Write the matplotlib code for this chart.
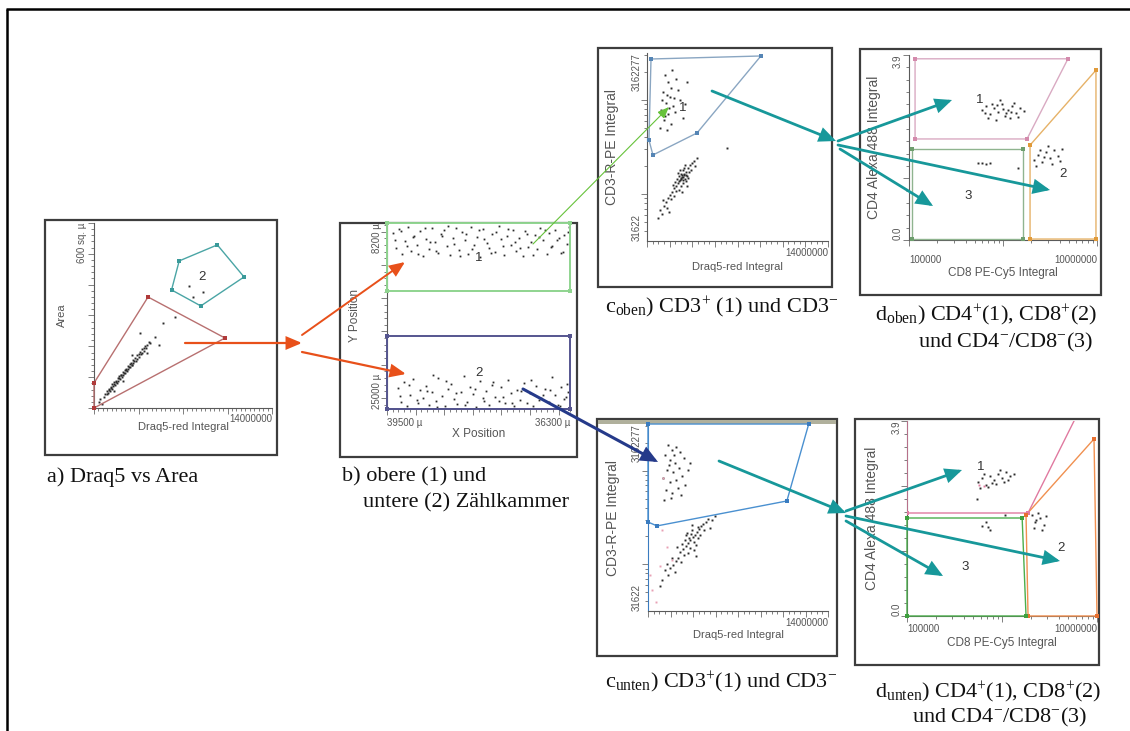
import numpy as np
import matplotlib
matplotlib.use("Agg")
import matplotlib.pyplot as plt
from matplotlib.patches import Rectangle, FancyArrowPatch
from matplotlib.ticker import MultipleLocator, LogLocator

plt.rcParams["font.family"] = ["Liberation Sans", "DejaVu Sans"]
plt.rcParams["mathtext.fontset"] = "custom"
plt.rcParams["mathtext.rm"] = "Liberation Serif"
plt.rcParams["mathtext.it"] = "Liberation Serif:italic"
plt.rcParams["mathtext.bf"] = "Liberation Serif:bold"

# ---- a) Draq5 integral (1e6) vs area (sq. µ) ----
a_cells = np.array([
    (0.8, 36), (0.9, 47), (1.0, 44), (1.05, 56), (1.1, 49), (1.15, 57), (1.2, 63), (1.25, 55), (1.3, 68), (1.35, 64),
    (1.4, 62), (1.45, 77), (1.5, 70), (1.55, 79), (1.6, 84), (1.65, 74), (1.7, 88), (1.75, 85), (1.8, 81), (1.85, 96),
    (1.9, 89), (1.95, 98), (2.0, 103), (2.05, 93), (2.1, 108), (2.15, 106), (2.2, 100), (2.25, 116), (2.3, 107), (2.35, 115),
    (2.4, 123), (2.45, 114), (2.5, 128), (2.55, 122), (2.6, 120), (2.65, 135), (2.7, 126), (2.75, 134), (2.8, 143), (2.85, 132),
    (2.9, 147), (2.95, 141), (3.0, 140), (3.05, 156), (3.1, 147), (3.15, 153), (3.2, 162), (3.3, 153), (3.35, 160), (3.4, 172),
    (3.5, 166), (3.55, 176), (3.6, 181), (3.7, 174), (3.75, 178), (3.8, 192), (3.9, 186), (3.95, 196), (4.0, 201), (4.1, 195),
    (4.2, 203), (4.3, 215), (4.4, 210),
    (0.4, 18), (0.5, 30), (0.6, 12), (1.6, 55), (2.3, 86), (3.0, 172), (3.6, 243), (4.2, 178), (4.8, 230),
    (5.1, 205), (5.4, 276), (6.4, 295), (7.5, 396), (8.6, 376), (7.8, 360),
])
a_gate1_x = [0, 4.25, 10.3, 0]
a_gate1_y = [81, 360, 227, 0]
a_gate2_x = [6.7, 9.7, 11.8, 8.4, 6.1]
a_gate2_y = [477, 529, 425, 331, 383]

# ---- b) stage position (µ) ----
b_top = np.array([
    (39390, 9120), (39340, 10480), (39290, 8720), (39230, 11020), (39180, 9810), (39130, 8530), (39080, 10730), (39020, 9340),
    (38970, 10150), (38920, 8910), (38870, 11180), (38810, 9620), (38760, 10560), (38710, 8640), (38660, 9930), (38600, 10870),
    (38550, 9230), (38500, 8820), (38450, 10320), (38390, 11090), (38340, 9510), (38290, 8660), (38240, 10610), (38180, 9040),
    (38130, 9760), (38080, 10960), (38030, 8570), (37970, 10220), (37920, 9420), (37870, 11230), (37820, 8770), (37760, 9980),
    (37710, 10440), (37660, 9170), (37610, 10810), (37550, 8470), (37500, 9680), (37450, 11060), (37400, 9370), (37340, 10170),
    (37290, 8860), (37240, 10690), (37190, 9560), (37130, 11140), (37080, 8960), (37030, 10380), (36980, 9880), (36920, 9260),
    (36870, 10590), (36820, 8610), (36770, 9740), (36710, 11010), (36660, 9080), (36610, 10270), (36560, 8790), (36500, 9590),
    (36450, 10920), (36400, 9310), (36350, 10060), (36320, 8540),
    (39360, 9700), (39250, 8900), (39150, 10300), (39050, 9500), (38950, 11000), (38840, 8650), (38740, 9950), (38640, 10700),
    (38540, 9400), (38430, 8500), (38330, 10100), (38220, 11150), (38120, 9200), (38010, 10550), (37900, 8850), (37800, 9650),
    (37690, 10900), (37590, 9050), (37480, 10250), (37380, 8700), (37270, 9900), (37170, 10500), (37060, 9150), (36950, 11100),
    (36850, 9450), (36740, 8800), (36640, 10350), (36530, 9750), (36430, 10800), (36340, 9000),
])
b_bottom = np.array([
    (39310, 23100), (39260, 24400), (39200, 22600), (39150, 24750), (39090, 23700), (39040, 22300), (38980, 24200), (38930, 23300),
    (38870, 24000), (38820, 22900), (38760, 24600), (38710, 23500), (38650, 24300), (38600, 22200), (38540, 23800), (38490, 24700),
    (38430, 23150), (38380, 22750), (38320, 24100), (38270, 24550), (38210, 23450), (38160, 22050), (38100, 24350), (38050, 23000),
    (37990, 23650), (37940, 24800), (37880, 22450), (37830, 24050), (37770, 23350), (37720, 24650), (37660, 22800), (37610, 23900),
    (37550, 24250), (37500, 23050), (37440, 24500), (37390, 22350), (37330, 23550), (37280, 24700), (37220, 23250), (37170, 24150),
    (37110, 22650), (37060, 24450), (37000, 23600), (36950, 24750), (36890, 22950), (36840, 24200), (36780, 23750), (36730, 23150),
    (36670, 24400), (36620, 22150), (36560, 23700), (36510, 24600), (36450, 23050), (36400, 24100), (36350, 22700), (36330, 23500),
    (39280, 23800), (39120, 22800), (38960, 24500), (38800, 23400), (38620, 24800), (38460, 22500), (38300, 23600), (38140, 24600),
    (37960, 23200), (37800, 24300), (37640, 22600), (37480, 23950), (37320, 24450), (37150, 23400), (36990, 22400), (36810, 24050),
    (36650, 23300), (36480, 24700), (36370, 23900), (38700, 21900),
])
b_gate1_x = [39500, 36300, 36300, 39500]
b_gate1_y = [8200, 8200, 14340, 14340]
b_gate2_x = [39500, 36300, 36300, 39500]
b_gate2_y = [18400, 18400, 25000, 25000]

# ---- c) Draq5 integral (1e6) vs CD3-R-PE integral ----
c_top_cd3pos = np.array([
    (1.39, 1.85e6), (1.62, 1.55e6), (1.86, 1.34e6), (1.24, 1.22e6), (2.24, 1.67e6), (1.78, 1.08e6), (1.47, 9.3e5),
    (2.01, 8.6e5), (1.08, 7.8e5), (1.62, 7.1e5), (2.16, 7.5e5), (1.31, 6.1e5), (1.86, 5.6e5), (1.55, 4.8e5),
    (1.16, 1.0e6), (2.55, 1.0e6), (2.94, 9.1e5), (2.78, 6.4e5), (2.40, 1.28e6), (1.93, 2.08e6), (3.09, 1.55e6),
    (1.70, 8.2e5), (1.39, 6.8e5), (2.09, 1.05e6), (1.00, 5.0e5), (1.55, 1.13e6),
])
c_top_cd3neg = np.array([
    (2.71, 1.52e5), (2.86, 1.59e5), (2.55, 1.41e5), (3.01, 1.71e5), (2.40, 1.31e5), (2.78, 1.80e5), (3.17, 1.89e5),
    (2.24, 1.22e5), (2.63, 1.63e5), (2.94, 1.45e5), (2.47, 1.55e5), (3.09, 1.55e5), (2.32, 1.45e5), (3.32, 2.04e5),
    (2.09, 1.16e5), (2.78, 1.31e5), (2.55, 1.80e5), (3.48, 2.14e5), (1.93, 1.05e5), (2.86, 1.89e5), (3.25, 1.71e5),
    (2.16, 1.34e5), (3.01, 1.37e5), (2.40, 1.67e5), (3.63, 2.24e5), (1.78, 9.8e4), (2.63, 1.22e5), (3.17, 1.48e5),
    (2.01, 1.25e5), (2.94, 2.04e5), (1.62, 9.1e4), (2.24, 1.08e5), (3.40, 1.80e5), (2.47, 1.10e5), (1.47, 8.2e4),
    (1.86, 8.9e4), (1.31, 7.4e4), (1.00, 6.8e4), (1.16, 6.1e4), (1.55, 7.1e4), (0.85, 5.6e4), (1.70, 6.4e4),
    (1.24, 8.6e4), (3.87, 2.42e5), (3.71, 1.99e5), (2.71, 1.05e5), (3.09, 1.22e5), (2.09, 9.6e4), (6.18, 3.08e5),
    (2.60, 1.48e5), (2.80, 1.50e5), (2.70, 1.60e5), (2.90, 1.65e5), (2.50, 1.36e5), (2.65, 1.45e5), (2.75, 1.40e5),
    (3.00, 1.60e5),
])
c_top_gate_x = [0.31, 8.81, 3.87, 0.46, 0.15]
c_top_gate_y = [2.73e6, 2.94e6, 4.46e5, 2.60e5, 3.75e5]

c_bot_cd3pos = np.array([
    (1.56, 1.88e6), (1.87, 1.67e6), (2.18, 1.80e6), (1.32, 1.47e6), (2.49, 1.59e6), (1.71, 1.30e6), (2.10, 1.21e6),
    (2.80, 1.37e6), (1.48, 1.02e6), (1.95, 9.7e5), (2.41, 1.07e6), (1.17, 8.4e5), (1.71, 7.6e5), (2.18, 8.0e5),
    (2.65, 8.8e5), (1.40, 6.2e5), (1.87, 5.8e5), (2.33, 6.5e5), (3.11, 1.02e6), (1.24, 4.9e5), (1.79, 5.1e5),
    (2.88, 7.0e5), (2.02, 1.47e6), (1.63, 1.15e6), (3.27, 1.21e6), (2.57, 5.5e5),
])
c_bot_cd3neg = np.array([
    (3.50, 1.95e5), (3.66, 2.06e5), (3.27, 1.82e5), (3.81, 2.21e5), (3.11, 1.69e5), (3.42, 2.33e5), (3.97, 2.38e5),
    (2.96, 1.57e5), (3.58, 1.73e5), (3.35, 2.11e5), (3.19, 1.91e5), (3.89, 1.91e5), (2.88, 1.82e5), (4.12, 2.57e5),
    (2.72, 1.46e5), (3.73, 1.61e5), (3.03, 2.16e5), (4.28, 2.69e5), (2.49, 1.35e5), (4.05, 2.06e5), (2.80, 1.26e5),
    (3.27, 1.49e5), (2.33, 1.17e5), (4.51, 2.83e5), (2.18, 1.08e5), (3.58, 1.42e5), (4.67, 3.05e5), (2.65, 1.65e5),
    (1.95, 9.8e4), (3.11, 1.32e5), (1.71, 9.1e4), (4.98, 2.97e5), (2.10, 8.3e4), (1.56, 7.7e4), (5.21, 3.28e5),
    (1.32, 8.7e4), (2.57, 1.06e5), (1.09, 6.8e4), (3.89, 2.50e5), (4.36, 2.33e5), (1.87, 1.17e5), (2.96, 2.06e5),
    (0.93, 5.8e4), (1.48, 1.01e5), (4.82, 2.44e5), (2.26, 1.53e5), (3.73, 1.23e5), (3.42, 2.63e5),
])
c_bot_faint = np.array([
    (0.31, 5.3e4), (0.93, 9.6e4), (1.48, 1.53e5), (0.62, 3.9e4), (1.09, 2.33e5), (0.16, 7.7e4), (1.17, 8.4e5),
    (1.87, 1.11e5),
])
c_bot_gate_x = [0, 12.5, 10.8, 0.7, 0]
c_bot_gate_y = [3.16e6, 3.16e6, 4.75e5, 2.57e5, 2.83e5]

# ---- d) CD8 PE-Cy5 integral vs CD4 Alexa 488 integral ----
d_top_cd4 = np.array([
    (5.98e5, 2.74), (6.59e5, 2.82), (7.27e5, 2.66), (8.02e5, 2.78), (8.85e5, 2.70), (9.75e5, 2.87), (1.05e6, 2.61),
    (1.13e6, 2.74), (1.25e6, 2.82), (1.37e6, 2.68), (1.52e6, 2.78), (1.67e6, 2.72), (6.92e5, 2.57), (8.43e5, 2.53),
    (1.0e6, 2.76), (1.19e6, 2.57), (6.44e5, 2.68), (9.29e5, 2.95), (1.31e6, 2.89), (7.64e5, 2.87), (1.08e6, 2.68),
    (1.44e6, 2.59), (8.63e5, 2.85), (1.22e6, 2.70),
])
d_top_cd8 = np.array([
    (2.14e6, 1.69), (2.36e6, 1.79), (2.60e6, 1.64), (2.87e6, 1.86), (3.16e6, 1.73), (3.49e6, 1.90), (3.85e6, 1.77),
    (4.25e6, 1.92), (2.24e6, 1.56), (2.73e6, 1.75), (3.32e6, 1.60), (2.48e6, 1.90), (4.04e6, 1.67), (3.01e6, 1.98),
    (5.42e5, 1.62), (5.98e5, 1.63), (6.59e5, 1.61), (7.27e5, 1.62), (1.44e6, 1.52),
])
d_top_gate1_x = [1.16e5, 4.91e6, 1.80e6, 1.16e5]
d_top_gate1_y = [3.82, 3.82, 2.13, 2.13]
d_top_gate2_x = [1.94e6, 9.75e6, 9.75e6, 1.94e6]
d_top_gate2_y = [2.0, 3.58, 0.02, 0.02]
d_top_gate3_x = [1.08e5, 1.63e6, 1.63e6, 1.08e5]
d_top_gate3_y = [1.92, 1.92, 0.02, 0.02]

d_bot_cd4 = np.array([
    (5.59e5, 2.68), (6.16e5, 2.76), (6.79e5, 2.62), (7.48e5, 2.80), (8.24e5, 2.72), (9.08e5, 2.84), (1.0e6, 2.76),
    (1.10e6, 2.88), (1.21e6, 2.80), (1.34e6, 2.84), (7.12e5, 2.58), (8.65e5, 2.64), (1.05e6, 2.68), (9.53e5, 2.92),
    (6.47e5, 2.84), (7.85e5, 2.66), (1.16e6, 2.72), (5.87e5, 2.56), (5.45e5, 2.34),
])
d_bot_cd8 = np.array([
    (2.07e6, 2.02), (2.28e6, 1.92), (2.51e6, 1.96), (2.77e6, 1.82), (2.17e6, 1.76), (2.39e6, 2.06), (2.64e6, 1.72),
    (2.90e6, 2.0), (2.22e6, 1.88), (6.16e5, 1.80), (6.79e5, 1.88), (7.48e5, 1.72), (7.1e5, 1.78), (1.08e6, 2.02),
])
d_bot_faint = np.array([(5.7e5, 2.62), (6.4e5, 2.60)])
d_bot_gate1_x = [1.0e5, 1.0e5, 1.88e6, 7.3e6]
d_bot_gate1_y = [4.3, 2.06, 2.06, 4.3]
d_bot_gate2_x = [1.79e6, 9.3e6, 1.0e7, 1.88e6]
d_bot_gate2_y = [2.02, 3.54, 0.0, 0.0]
d_bot_gate3_x = [1.0e5, 1.63e6, 1.79e6, 1.0e5]
d_bot_gate3_y = [1.96, 1.96, 0.0, 0.0]

W, H = 1130, 731
GREY = "#555555"
TEAL = "#17989a"
RED = "#e8501a"


def box(x0, y0, x1, y1):
    return [x0 / W, 1 - y1 / H, (x1 - x0) / W, (y1 - y0) / H]


def style(ax):
    ax.set_facecolor("white")
    for s in ("top", "right"):
        ax.spines[s].set_visible(False)
    for s in ("left", "bottom"):
        ax.spines[s].set_color("#5a5a5a")
        ax.spines[s].set_linewidth(0.8)
    ax.tick_params(which="both", direction="out", colors="#6a6a6a", width=0.6,
                   labelleft=False, labelbottom=False)
    ax.tick_params(which="major", length=4)
    ax.tick_params(which="minor", length=2.2)


def xtick_text(ax, val, s, ha, dy):
    ax.annotate(s, (val, 0), xycoords=ax.get_xaxis_transform(), xytext=(0, -dy * 0.72),
                textcoords="offset points", ha=ha, va="center", fontsize=7, color=GREY)


def ytick_text(ax, val, s, va, dx):
    ax.annotate(s, (0, val), xycoords=ax.get_yaxis_transform(), xytext=(-dx * 0.72, 0),
                textcoords="offset points", ha="center", va=va, rotation=90, fontsize=7, color=GREY)


def labels(ax, xlabel, ylabel, dy, dx, xsize=8, ysize=10):
    ax.annotate(xlabel, (0.5, 0), xycoords="axes fraction", xytext=(0, -dy * 0.72),
                textcoords="offset points", ha="center", va="center", fontsize=xsize, color=GREY)
    ax.annotate(ylabel, (0, 0.5), xycoords="axes fraction", xytext=(-dx * 0.72, 0),
                textcoords="offset points", ha="center", va="center", rotation=90,
                fontsize=ysize, color=GREY)


def gate(ax, xs, ys, line, mark, clip=False, lw=1.0):
    ax.plot(list(xs) + [xs[0]], list(ys) + [ys[0]], color=line, lw=lw, clip_on=clip, zorder=3)
    ax.plot(xs, ys, "s", ms=3, color=mark, mew=0, clip_on=clip, zorder=4)


def cells(ax, pts, color="#2a2a2a", ms=1.4):
    ax.plot(pts[:, 0], pts[:, 1], "s", ms=ms, mew=0, color=color, zorder=2)


def gate_label(ax, x, y, s):
    ax.text(x, y, s, fontsize=9.5, color="#333333", ha="center", va="center", zorder=5)


fig = plt.figure(figsize=(W / 100, H / 100), dpi=100)
bg = fig.add_axes([0, 0, 1, 1], zorder=0)
bg.set_xlim(0, W)
bg.set_ylim(H, 0)
bg.axis("off")

# outer frame (top and left rule) and the screenshot windows
bg.plot([6, W], [9, 9], color="black", lw=1.8, solid_capstyle="butt")
bg.plot([7, 7], [9, H], color="black", lw=1.8, solid_capstyle="butt")
for x0, y0, x1, y1 in [(45, 220, 277, 455), (340, 223, 577, 457), (598, 48, 832, 287),
                       (860, 49, 1101, 295), (597, 419, 837, 656), (855, 419, 1099, 665)]:
    bg.add_patch(Rectangle((x0, y0), x1 - x0, y1 - y0, fill=False, ec="#3d3d3d", lw=1.6))
bg.add_patch(Rectangle((598, 420), 238, 4, fc="#b0b09c", ec="none"))

# captions
cap = dict(fontsize=16, family="Liberation Serif", color="#111111", va="center", ha="left")
bg.text(47, 477, "a) Draq5 vs Area", **cap)
bg.text(342, 477, "b) obere (1) und", **cap)
bg.text(363, 503, "untere (2) Zählkammer", **cap)
bg.text(605, 307, r"c$_{\mathrm{oben}}$) CD3$^{+}$ (1) und CD3$^{-}$", **cap)
bg.text(875, 315, r"d$_{\mathrm{oben}}$) CD4$^{+}$(1), CD8$^{+}$(2)", **cap)
bg.text(918, 342, r"und CD4$^{-}$/CD8$^{-}$(3)", **cap)
bg.text(605, 682, r"c$_{\mathrm{unten}}$) CD3$^{+}$(1) und CD3$^{-}$", **cap)
bg.text(875, 692, r"d$_{\mathrm{unten}}$) CD4$^{+}$(1), CD8$^{+}$(2)", **cap)
bg.text(912, 717, r"und CD4$^{-}$/CD8$^{-}$(3)", **cap)

# a) Draq5 vs Area
ax = fig.add_axes(box(94, 223, 272, 408), zorder=1)
style(ax)
ax.set_xlim(0, 14)
ax.set_ylim(0, 600)
ax.xaxis.set_major_locator(MultipleLocator(3.5))
ax.xaxis.set_minor_locator(MultipleLocator(0.35))
ax.yaxis.set_major_locator(MultipleLocator(100))
ax.yaxis.set_minor_locator(MultipleLocator(20))
cells(ax, a_cells)
gate(ax, a_gate1_x, a_gate1_y, "#b87070", "#b03a3a")
gate(ax, a_gate2_x, a_gate2_y, "#4aa5a5", "#3a9a9a")
gate_label(ax, 8.5, 425, "2")
ytick_text(ax, 600, "600 sq. µ", "top", 12)
xtick_text(ax, 14, "14000000", "right", 11)
labels(ax, "Draq5-red Integral", "Area", 19, 32, ysize=8)

# b) counting chambers
ax = fig.add_axes(box(387, 223, 570, 409), zorder=1)
style(ax)
ax.set_xlim(39500, 36300)
ax.set_ylim(25000, 8200)
ax.xaxis.set_major_locator(MultipleLocator(500))
ax.xaxis.set_minor_locator(MultipleLocator(100))
ax.yaxis.set_major_locator(MultipleLocator(3000))
ax.yaxis.set_minor_locator(MultipleLocator(600))
ax.spines["bottom"].set_color("#4a4a8a")
ax.spines["bottom"].set_linewidth(1.4)
cells(ax, b_top, ms=1.3)
cells(ax, b_bottom, ms=1.3)
gate(ax, b_gate1_x, b_gate1_y, "#8fd48f", "#8fd48f", lw=1.4)
gate(ax, b_gate2_x, b_gate2_y, "#55558f", "#55558f", lw=1.4)
gate_label(ax, 37890, 11360, "1")
gate_label(ax, 37890, 21750, "2")
ytick_text(ax, 8200, "8200 µ", "top", 10)
ytick_text(ax, 25000, "25000 µ", "bottom", 10)
xtick_text(ax, 39500, "39500 µ", "left", 14)
xtick_text(ax, 36300, "36300 µ", "right", 14)
labels(ax, "X Position", "Y Position", 25, 32, xsize=8.5, ysize=8.5)


def cd3_axes(rect, dy_tick, dx_tick, dy_lab, dx_lab):
    ax = fig.add_axes(box(*rect), zorder=1)
    style(ax)
    ax.set_xlim(0, 14)
    ax.set_yscale("log")
    ax.set_ylim(31622, 3162277)
    ax.xaxis.set_major_locator(MultipleLocator(1.75))
    ax.xaxis.set_minor_locator(MultipleLocator(0.4375))
    ax.yaxis.set_major_locator(LogLocator(base=10))
    ax.yaxis.set_minor_locator(LogLocator(base=10, subs=np.arange(2, 10)))
    ytick_text(ax, 3162277, "3162277", "top", dx_tick)
    ytick_text(ax, 31622, "31622", "bottom", dx_tick)
    xtick_text(ax, 14, "14000000", "right", dy_tick)
    labels(ax, "Draq5-red Integral", "CD3-R-PE Integral", dy_lab, dx_lab)
    return ax


def cd4_axes(rect, dy_tick, dx_tick, dy_lab, dx_lab):
    ax = fig.add_axes(box(*rect), zorder=1)
    style(ax)
    ax.set_xscale("log")
    ax.set_xlim(1e5, 1e7)
    ax.set_ylim(0, 3.9)
    ax.xaxis.set_major_locator(LogLocator(base=10))
    ax.xaxis.set_minor_locator(LogLocator(base=10, subs=np.arange(2, 10)))
    ax.yaxis.set_major_locator(MultipleLocator(1.3))
    ax.yaxis.set_minor_locator(MultipleLocator(0.26))
    ytick_text(ax, 3.9, "3.9", "top", dx_tick)
    ytick_text(ax, 0, "0.0", "bottom", dx_tick)
    xtick_text(ax, 1e5, "100000", "left", dy_tick)
    xtick_text(ax, 1e7, "10000000", "right", dy_tick)
    labels(ax, "CD8 PE-Cy5 Integral", "CD4 Alexa 488 Integral", dy_lab, dx_lab, xsize=8.5)
    return ax


# c oben
ax = cd3_axes((647, 53, 828, 241), 12, 10, 26, 35)
cells(ax, c_top_cd3pos)
cells(ax, c_top_cd3neg)
gate(ax, c_top_gate_x, c_top_gate_y, "#8aa6c2", "#5585b5")
gate_label(ax, 2.78, 8.2e5, "1")

# d oben
ax = cd4_axes((909, 55, 1097, 240), 20, 11, 33, 35)
cells(ax, d_top_cd4)
cells(ax, d_top_cd8)
gate(ax, d_top_gate1_x, d_top_gate1_y, "#d9aac2", "#d48aac")
gate(ax, d_top_gate2_x, d_top_gate2_y, "#e6b268", "#e09a3a")
gate(ax, d_top_gate3_x, d_top_gate3_y, "#8fb48f", "#6e9e6e")
gate_label(ax, 5.7e5, 2.95, "1")
gate_label(ax, 4.35e6, 1.39, "2")
gate_label(ax, 4.25e5, 0.93, "3")

# c unten
ax = cd3_axes((648, 424, 828, 611), 12, 11, 24, 35)
cells(ax, c_bot_cd3pos)
cells(ax, c_bot_cd3neg)
cells(ax, c_bot_faint, color="#e8a0b4")
gate(ax, c_bot_gate_x, c_bot_gate_y, "#4a90d0", "#3a7cc0")
ax.spines["left"].set_color("#3a7cc0")

# d unten
ax = cd4_axes((907, 421, 1097, 616), 13, 10, 27, 35)
cells(ax, d_bot_cd4)
cells(ax, d_bot_cd8)
cells(ax, d_bot_faint, color="#e07aa0")
gate(ax, d_bot_gate1_x, d_bot_gate1_y, "#e07aa0", "#e07aa0", clip=True)
gate(ax, d_bot_gate2_x, d_bot_gate2_y, "#f09050", "#e87030")
gate(ax, d_bot_gate3_x, d_bot_gate3_y, "#4cae4c", "#3ea03e")
gate_label(ax, 5.9e5, 2.98, "1")
gate_label(ax, 4.2e6, 1.36, "2")
gate_label(ax, 4.1e5, 0.98, "3")

# arrows linking the gates from panel to panel
fg = fig.add_axes([0, 0, 1, 1], zorder=5)
fg.set_xlim(0, W)
fg.set_ylim(H, 0)
fg.axis("off")
fg.patch.set_alpha(0)


def arrow(p0, p1, color, lw, hl, hw):
    fg.add_patch(FancyArrowPatch(p0, p1, arrowstyle=f"-|>,head_length={hl},head_width={hw}",
                                 mutation_scale=1, color=color, lw=lw, shrinkA=0, shrinkB=0,
                                 joinstyle="miter"))


arrow((185, 343), (302, 343), RED, 1.6, 9, 3.8)
arrow((302, 335), (405, 262), RED, 1.4, 9, 3.8)
arrow((302, 352), (406, 374), RED, 1.6, 9, 3.8)
arrow((533, 244), (669, 107), "#66c23a", 0.8, 7, 2.8)
arrow((523, 389), (658, 462), "#253a8a", 2.2, 9, 4)
for p0, p1 in [((712, 91), (836, 141)), ((838, 141), (952, 100)), ((838, 145), (1050, 190)),
               ((840, 149), (933, 206)), ((719, 461), (846, 513)), ((846, 511), (962, 470)),
               ((846, 516), (1060, 561)), ((846, 521), (943, 576))]:
    arrow(p0, p1, TEAL, 2.0, 9, 4)

fig.savefig("out.png", dpi=100)
